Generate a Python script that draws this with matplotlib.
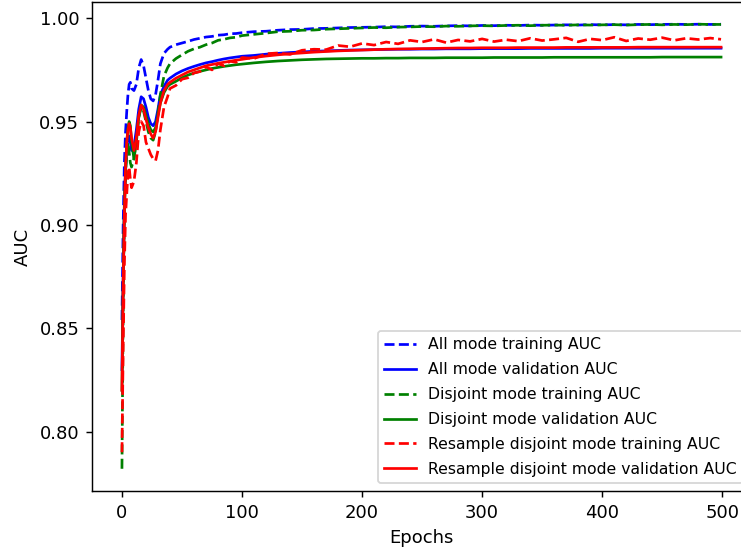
import matplotlib
matplotlib.use('Agg')
import matplotlib.pyplot as plt

# epochs sampled from the curves (dense at the start, sparse later)
epochs = [0, 1, 2, 3, 4, 5, 6, 7, 8, 10, 12, 14, 16, 18, 20, 22, 24, 26, 28, 30, 32, 35, 38, 40] \
    + list(range(45, 101, 5)) + list(range(110, 491, 10)) + [499]

all_train = [0.854, 0.900, 0.930, 0.945, 0.955, 0.963, 0.968, 0.969, 0.966, 0.965, 0.968, 0.976,
             0.980, 0.977, 0.971, 0.965, 0.961, 0.960, 0.963, 0.970, 0.978, 0.983, 0.985, 0.986,
             0.9872, 0.9880, 0.9888, 0.9897, 0.9903, 0.9909, 0.9912, 0.9918, 0.9920, 0.9925, 0.9926, 0.9930,
             0.9935, 0.9937, 0.9942, 0.9945, 0.9946, 0.9950, 0.9951, 0.9953, 0.9955, 0.9956,
             0.9957, 0.9959, 0.9958, 0.9961, 0.9962, 0.9961, 0.9963, 0.9964, 0.9963, 0.9965,
             0.9964, 0.9966, 0.9965, 0.9967, 0.9966, 0.9967, 0.9968, 0.9967, 0.9969, 0.9968,
             0.9969, 0.9968, 0.9970, 0.9969, 0.9970, 0.9971, 0.9970, 0.9971, 0.9970, 0.9971]

all_val = [0.830, 0.875, 0.910, 0.928, 0.937, 0.942, 0.943, 0.940, 0.936, 0.938, 0.946, 0.956,
           0.962, 0.961, 0.957, 0.952, 0.949, 0.948, 0.950, 0.956, 0.963, 0.967, 0.970, 0.971,
           0.9730, 0.9745, 0.9757, 0.9767, 0.9776, 0.9784, 0.9790, 0.9797, 0.9803, 0.9808, 0.9812, 0.9816,
           0.9820, 0.9826, 0.9830, 0.9834, 0.9837, 0.9840, 0.9842, 0.9844, 0.9846, 0.9847,
           0.9848, 0.9849, 0.9850, 0.9850, 0.9851, 0.9851, 0.9852, 0.9852, 0.9852, 0.9853,
           0.9853, 0.9853, 0.9853, 0.9854, 0.9854, 0.9854, 0.9854, 0.9854, 0.9854, 0.9855,
           0.9855, 0.9855, 0.9855, 0.9855, 0.9855, 0.9855, 0.9855, 0.9855, 0.9855, 0.9855]

dis_train = [0.782, 0.860, 0.910, 0.925, 0.935, 0.940, 0.935, 0.930, 0.928, 0.932, 0.942, 0.952,
             0.957, 0.955, 0.950, 0.945, 0.942, 0.941, 0.945, 0.954, 0.963, 0.972, 0.976, 0.978,
             0.9805, 0.9823, 0.9840, 0.9852, 0.9860, 0.9872, 0.9880, 0.9893, 0.9898, 0.9905, 0.9908, 0.9916,
             0.9922, 0.9928, 0.9935, 0.9937, 0.9942, 0.9943, 0.9947, 0.9949, 0.9951, 0.9953,
             0.9955, 0.9954, 0.9957, 0.9958, 0.9960, 0.9959, 0.9962, 0.9961, 0.9963, 0.9964,
             0.9963, 0.9965, 0.9966, 0.9964, 0.9966, 0.9967, 0.9966, 0.9968, 0.9967, 0.9968,
             0.9969, 0.9967, 0.9969, 0.9970, 0.9968, 0.9970, 0.9969, 0.9971, 0.9970, 0.9970]

dis_val = [0.820, 0.870, 0.905, 0.925, 0.940, 0.947, 0.950, 0.948, 0.940, 0.932, 0.940, 0.952,
           0.958, 0.957, 0.953, 0.949, 0.946, 0.945, 0.947, 0.953, 0.959, 0.964, 0.967, 0.968,
           0.9695, 0.9712, 0.9725, 0.9735, 0.9743, 0.9750, 0.9757, 0.9762, 0.9767, 0.9771, 0.9775, 0.9778,
           0.9784, 0.9789, 0.9793, 0.9796, 0.9799, 0.9801, 0.9803, 0.9804, 0.9805, 0.9806,
           0.9806, 0.9807, 0.9807, 0.9808, 0.9808, 0.9808, 0.9809, 0.9809, 0.9809, 0.9809,
           0.9810, 0.9810, 0.9810, 0.9810, 0.9810, 0.9811, 0.9811, 0.9811, 0.9811, 0.9811,
           0.9811, 0.9811, 0.9811, 0.9811, 0.9812, 0.9812, 0.9812, 0.9812, 0.9812, 0.9812]

res_train = [0.790, 0.840, 0.880, 0.905, 0.915, 0.925, 0.928, 0.922, 0.918, 0.921, 0.930, 0.945,
             0.950, 0.948, 0.940, 0.937, 0.934, 0.932, 0.931, 0.936, 0.946, 0.957, 0.962, 0.966,
             0.9675, 0.9705, 0.9712, 0.9735, 0.9742, 0.9765, 0.9750, 0.9780, 0.9770, 0.9792, 0.9787, 0.9810,
             0.9805, 0.9828, 0.9832, 0.9825, 0.9845, 0.9850, 0.9848, 0.9868, 0.9862, 0.9878,
             0.9870, 0.9885, 0.9876, 0.9893, 0.9885, 0.9898, 0.9882, 0.9895, 0.9888, 0.9900,
             0.9887, 0.9896, 0.9889, 0.9903, 0.9892, 0.9898, 0.9905, 0.9886, 0.9900, 0.9894,
             0.9908, 0.9890, 0.9902, 0.9896, 0.9906, 0.9893, 0.9903, 0.9897, 0.9904, 0.9898]

res_val = [0.820, 0.870, 0.905, 0.928, 0.940, 0.946, 0.949, 0.947, 0.942, 0.936, 0.942, 0.953,
           0.958, 0.956, 0.951, 0.947, 0.944, 0.942, 0.945, 0.952, 0.959, 0.965, 0.968, 0.969,
           0.9710, 0.9725, 0.9740, 0.9750, 0.9760, 0.9770, 0.9776, 0.9782, 0.9787, 0.9792, 0.9797, 0.9801,
           0.9810, 0.9817, 0.9823, 0.9828, 0.9832, 0.9836, 0.9839, 0.9842, 0.9844, 0.9846,
           0.9848, 0.9850, 0.9851, 0.9852, 0.9853, 0.9854, 0.9855, 0.9856, 0.9856, 0.9857,
           0.9857, 0.9857, 0.9858, 0.9858, 0.9858, 0.9858, 0.9859, 0.9859, 0.9859, 0.9859,
           0.9859, 0.9859, 0.9860, 0.9860, 0.9860, 0.9860, 0.9860, 0.9860, 0.9860, 0.9860]

# the reference is a cropped figure: the right edge of the axes is cut off
fig = plt.figure(figsize=(741 / 130, 552 / 130), dpi=130)
ax = fig.add_axes([92 / 741, 61 / 552, 659 / 741, 489 / 552])

ax.plot(epochs, all_train, 'b--', label='All mode training AUC')
ax.plot(epochs, all_val, 'b-', label='All mode validation AUC')
ax.plot(epochs, dis_train, 'g--', label='Disjoint mode training AUC')
ax.plot(epochs, dis_val, 'g-', label='Disjoint mode validation AUC')
ax.plot(epochs, res_train, 'r--', label='Resample disjoint mode training AUC')
ax.plot(epochs, res_val, 'r-', label='Resample disjoint mode validation AUC')

ax.set_xlabel('Epochs')
ax.set_ylabel('AUC')
ax.set_xticks([0, 100, 200, 300, 400, 500])
ax.set_yticks([0.80, 0.85, 0.90, 0.95, 1.00])
ax.legend(loc='lower right', fontsize=8.7, labelspacing=0.63)

fig.savefig('out.png', dpi=130)
